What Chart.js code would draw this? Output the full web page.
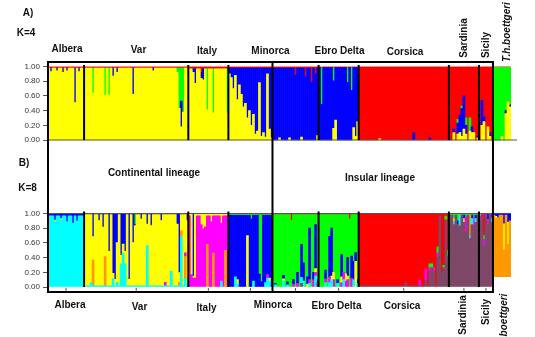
<!DOCTYPE html>
<html lang="en">
<head>
<meta charset="UTF-8">
<title>STRUCTURE plot K=4 / K=8</title>
<script src="https://cdn.jsdelivr.net/npm/chart.js"></script>
<style>
    body { margin: 0; background: #fff; }
    .wrap { position: relative; width: 535px; height: 337px; overflow: hidden; }
    .lab {
        position: absolute;
        font: bold 10px 'Liberation Sans', Arial, sans-serif;
        line-height: 10px;
        color: #111;
        white-space: nowrap;
        transform: translate(-50%, -50%);
    }
    .rot { transform: translate(-50%, -50%) rotate(-90deg); }
    .it { font-style: italic; }
</style>
</head>
<body>
<div class="wrap">
    <canvas id="structurePlot"></canvas>

    <!-- panel A -->
    <div class="lab" style="left:28px;top:13px">A)</div>
    <div class="lab" style="left:26px;top:32.5px">K=4</div>
    <div class="lab" style="left:67px;top:49px">Albera</div>
    <div class="lab" style="left:138.5px;top:50px">Var</div>
    <div class="lab" style="left:207px;top:51px">Italy</div>
    <div class="lab" style="left:270.5px;top:50.5px">Minorca</div>
    <div class="lab" style="left:339.5px;top:51px">Ebro Delta</div>
    <div class="lab" style="left:405px;top:51.5px">Corsica</div>
    <div class="lab rot" style="left:463.5px;top:38px">Sardinia</div>
    <div class="lab rot" style="left:486px;top:45px">Sicily</div>
    <div class="lab rot it" style="left:507px;top:32px">T.h.boettgeri</div>

    <!-- panel B -->
    <div class="lab" style="left:24px;top:163px">B)</div>
    <div class="lab" style="left:27.5px;top:187.5px">K=8</div>
    <div class="lab" style="left:154px;top:172.5px">Continental lineage</div>
    <div class="lab" style="left:380px;top:177.5px">Insular lineage</div>
    <div class="lab" style="left:70px;top:305px">Albera</div>
    <div class="lab" style="left:139.5px;top:307px">Var</div>
    <div class="lab" style="left:206.5px;top:308px">Italy</div>
    <div class="lab" style="left:273px;top:305px">Minorca</div>
    <div class="lab" style="left:336.5px;top:305.5px">Ebro Delta</div>
    <div class="lab" style="left:402px;top:305.5px">Corsica</div>
    <div class="lab rot" style="left:462.5px;top:315px">Sardinia</div>
    <div class="lab rot" style="left:486px;top:311.5px">Sicily</div>
    <div class="lab rot it" style="left:504px;top:315px">boettgeri</div>
</div>

<script>
// sampling sites, left to right (Ebro Delta has two sites)
const sites = ['Albera', 'Var', 'Italy', 'Minorca', 'Ebro1', 'Ebro2', 'Corsica', 'Sardinia', 'Sicily', 'boettgeri'];
const siteSizes = [18, 52, 20, 22, 23, 20, 45, 15, 7, 9];
const boxedSites = 9;          // boettgeri sits outside the frame
const lineageSplit = 'Ebro1';  // first insular site

// clusters in stacking order, bottom to top
const clustersA = ['yellow', 'blue', 'green', 'red'];
const clustersB = ['mauve', 'cyan', 'orange', 'magenta', 'yellow', 'blue', 'green', 'red'];
const colours = {
    yellow: '#ffff00', blue: '#0000ff', green: '#00ff00', red: '#ff0000',
    mauve: '#7f4868', cyan: '#00ffff', orange: '#ff9900', magenta: '#ff00ff'
};

const tickValues = [0, 0.2, 0.4, 0.6, 0.8, 1.0];
const tickLabels = ['0.00', '0.20', '0.40', '0.60', '0.80', '1.00'];

// K=4: main cluster of each site and the thin fringe every bird carries
const mainA = ['yellow', 'yellow', 'yellow', 'blue', 'blue', 'blue', 'red', 'red', 'red', 'green'];
const fringeA = [{red: .02}, {red: .02}, {red: .03}, {red: .02}, {red: .02}, {red: .015}, {}, {}, {}, {red: .01}];
const liftA = [0, 0, 0, 0, 0, 0, 0, 0, 0, 0];

// K=4: admixed individuals [site, individual, shares]
const admixA = [
    ['Albera', 1, {blue: .05}], ['Albera', 4, {blue: .04}], ['Albera', 7, {blue: .06}],
    ['Albera', 9, {blue: .04}], ['Albera', 13, {blue: .47}], ['Albera', 15, {blue: .05}],
    ['Var', 4, {green: .34}], ['Var', 10, {green: .37}], ['Var', 12, {green: .37}],
    ['Var', 14, {blue: .11}], ['Var', 16, {blue: .06}], ['Var', 24, {blue: .36}],
    ['Var', 34, {blue: .04}], ['Var', 46, {green: .06}], ['Var', 47, {green: .55}],
    ['Var', 48, {green: .45, blue: .35}], ['Var', 49, {green: .6}],
    ['Italy', 2, {blue: .05}], ['Italy', 3, {blue: .2}], ['Italy', 6, {red: .05, blue: .08}],
    ['Italy', 7, {blue: .15}], ['Italy', 9, {green: .56}], ['Italy', 12, {green: .6}],
    ['Italy', 19, {green: .6}],
    ['Minorca', 0, {yellow: .9}], ['Minorca', 1, {yellow: .85}], ['Minorca', 2, {yellow: .7}],
    ['Minorca', 3, {yellow: .88}], ['Minorca', 4, {yellow: .55}], ['Minorca', 5, {yellow: .75}],
    ['Minorca', 6, {yellow: .62}], ['Minorca', 7, {yellow: .45}], ['Minorca', 8, {yellow: .5}],
    ['Minorca', 9, {yellow: .3}], ['Minorca', 10, {yellow: .4}], ['Minorca', 11, {yellow: .2}],
    ['Minorca', 12, {yellow: .35}], ['Minorca', 13, {yellow: .08}], ['Minorca', 14, {yellow: .12}],
    ['Minorca', 15, {yellow: .78}], ['Minorca', 16, {yellow: .05}], ['Minorca', 17, {yellow: .1}],
    ['Minorca', 18, {yellow: .04}], ['Minorca', 19, {yellow: .9}], ['Minorca', 20, {yellow: .15}],
    ['Minorca', 21, {yellow: .03}],
    ['Ebro1', 3, {yellow: .03}], ['Ebro1', 8, {yellow: .03}], ['Ebro1', 11, {red: .1}],
    ['Ebro1', 14, {yellow: .04}], ['Ebro1', 16, {red: .12}], ['Ebro1', 19, {red: .2}],
    ['Ebro1', 21, {red: .08}], ['Ebro1', 22, {yellow: .06}],
    ['Ebro2', 1, {green: .5}], ['Ebro2', 7, {green: .18, yellow: .16}], ['Ebro2', 8, {yellow: .27}],
    ['Ebro2', 14, {green: .2}], ['Ebro2', 16, {green: .31}], ['Ebro2', 17, {yellow: .17}],
    ['Ebro2', 18, {yellow: .05}], ['Ebro2', 19, {yellow: .25}],
    ['Corsica', 10, {yellow: .02}], ['Corsica', 27, {blue: .1}], ['Corsica', 35, {blue: .03}],
    ['Sardinia', 2, {yellow: .1, blue: .05}], ['Sardinia', 4, {yellow: .08, blue: .15, green: .05}],
    ['Sardinia', 5, {yellow: .1, blue: .24}], ['Sardinia', 6, {yellow: .05, blue: .38, green: .03}],
    ['Sardinia', 7, {yellow: .15, blue: .45}], ['Sardinia', 8, {yellow: .08, blue: .12, green: .1}],
    ['Sardinia', 10, {yellow: .12, green: .18}], ['Sardinia', 11, {yellow: .1, blue: .08}],
    ['Sardinia', 12, {yellow: .1}], ['Sardinia', 14, {yellow: .03, blue: .02}],
    ['Sicily', 1, {yellow: .2, blue: .34}], ['Sicily', 2, {yellow: .25, blue: .07}],
    ['Sicily', 4, {yellow: .18}], ['Sicily', 5, {yellow: .05, blue: .05}],
    ['boettgeri', 4, {yellow: .05}], ['boettgeri', 6, {yellow: .36, blue: .04}],
    ['boettgeri', 7, {yellow: .52}], ['boettgeri', 8, {yellow: .45, blue: .03}]
];

// K=8
const mainB = ['cyan', 'yellow', 'magenta', 'blue', 'green', 'green', 'red', 'mauve', 'mauve', 'orange'];
const fringeB = [{blue: .03}, {blue: .015, cyan: .015}, {yellow: .03}, {red: .015, green: .01}, {red: .015},
                 {red: .015}, {mauve: .015}, {green: .02}, {magenta: .02}, {blue: .02}];
const liftB = [0, 0, 0, 0, 0, 0, 0, 0, 0, 0.14];   // boettgeri block starts above zero

const admixB = [
    ['Albera', 3, {blue: .06, yellow: .03}], ['Albera', 6, {blue: .04, yellow: .02}],
    ['Albera', 9, {blue: .08}], ['Albera', 12, {blue: .1}], ['Albera', 14, {blue: .07}],
    ['Var', 3, {cyan: .05}], ['Var', 4, {orange: .35, blue: .3}], ['Var', 7, {blue: .08}],
    ['Var', 9, {blue: .17}], ['Var', 10, {orange: .4}], ['Var', 12, {blue: .5}],
    ['Var', 14, {blue: .8, cyan: .1}], ['Var', 15, {blue: .88}], ['Var', 16, {blue: .38, cyan: .05}],
    ['Var', 18, {blue: .55, cyan: .3}], ['Var', 19, {blue: .4, cyan: .44}], ['Var', 20, {blue: .5, cyan: .3}],
    ['Var', 22, {blue: .88}], ['Var', 24, {blue: .38}], ['Var', 25, {green: .15}],
    ['Var', 28, {blue: .06}], ['Var', 31, {blue: .13, cyan: .55}], ['Var', 33, {blue: .15}],
    ['Var', 38, {blue: .08}], ['Var', 40, {magenta: .05}], ['Var', 43, {cyan: .2}],
    ['Var', 46, {blue: .13}], ['Var', 47, {blue: .79, orange: .05}], ['Var', 48, {cyan: .67, orange: .08}],
    ['Var', 50, {orange: .3, magenta: .05, cyan: .1}], ['Var', 51, {blue: .08}],
    ['Italy', 1, {yellow: .8}], ['Italy', 2, {blue: .85}], ['Italy', 3, {yellow: .85}],
    ['Italy', 6, {yellow: .12}], ['Italy', 7, {yellow: .18}], ['Italy', 8, {yellow: .15}],
    ['Italy', 9, {orange: .58}], ['Italy', 11, {yellow: .08}], ['Italy', 12, {orange: .46}],
    ['Italy', 16, {yellow: .1, cyan: .08}], ['Italy', 18, {orange: .5}],
    ['Minorca', 3, {cyan: .14}], ['Minorca', 4, {yellow: .06, cyan: .04}], ['Minorca', 9, {yellow: .7}],
    ['Minorca', 11, {green: .05}], ['Minorca', 12, {cyan: .08}], ['Minorca', 15, {green: .8}],
    ['Minorca', 16, {green: .9}], ['Minorca', 18, {cyan: .06}], ['Minorca', 19, {cyan: .12, magenta: .05}],
    ['Minorca', 20, {cyan: .08, yellow: .04}],
    ['Ebro1', 1, {cyan: .03, blue: .02}], ['Ebro1', 5, {cyan: .08, blue: .05, yellow: .03}],
    ['Ebro1', 7, {blue: .04, cyan: .03}], ['Ebro1', 9, {red: .08}], ['Ebro1', 10, {blue: .06, magenta: .04}],
    ['Ebro1', 12, {blue: .15, magenta: .05}], ['Ebro1', 14, {blue: .45, cyan: .08, mauve: .05}],
    ['Ebro1', 15, {blue: .25, cyan: .08}], ['Ebro1', 17, {blue: .1, yellow: .04}],
    ['Ebro1', 18, {blue: .7, cyan: .05, magenta: .05}], ['Ebro1', 20, {magenta: .1, blue: .1}],
    ['Ebro1', 21, {blue: .6, cyan: .15, yellow: .05, magenta: .05}], ['Ebro1', 22, {mauve: .05, blue: .05}],
    ['Ebro2', 3, {blue: .12, cyan: .06, magenta: .05}], ['Ebro2', 5, {blue: .55, magenta: .08, cyan: .06}],
    ['Ebro2', 6, {blue: .65, cyan: .1, yellow: .05}], ['Ebro2', 7, {magenta: .1, yellow: .1}],
    ['Ebro2', 9, {blue: .05, cyan: .05}], ['Ebro2', 11, {blue: .3, yellow: .08, magenta: .06}],
    ['Ebro2', 12, {cyan: .1, magenta: .1}], ['Ebro2', 13, {yellow: .1, magenta: .08}],
    ['Ebro2', 14, {blue: .25, magenta: .1, yellow: .05}], ['Ebro2', 15, {red: .06}],
    ['Ebro2', 16, {blue: .3, magenta: .12}], ['Ebro2', 17, {blue: .25, cyan: .1}],
    ['Ebro2', 18, {yellow: .35, blue: .12}], ['Ebro2', 19, {blue: .05, cyan: .05}],
    ['Corsica', 23, {mauve: .05}], ['Corsica', 30, {magenta: .08}], ['Corsica', 33, {magenta: .15, mauve: .08}],
    ['Corsica', 35, {mauve: .2, green: .05, magenta: .05}], ['Corsica', 36, {mauve: .25, green: .05}],
    ['Corsica', 37, {mauve: .2, magenta: .05}], ['Corsica', 39, {mauve: .4, green: .08, magenta: .05}],
    ['Corsica', 40, {mauve: .95}], ['Corsica', 41, {mauve: .19}], ['Corsica', 42, {mauve: .25, green: .03}],
    ['Corsica', 43, {mauve: .9, green: .05}], ['Corsica', 44, {mauve: .4, green: .08}],
    ['Sardinia', 2, {green: .05, cyan: .04, yellow: .04}], ['Sardinia', 4, {green: .08, blue: .05}],
    ['Sardinia', 5, {cyan: .15}], ['Sardinia', 7, {blue: .05, yellow: .05}],
    ['Sardinia', 8, {magenta: .2, green: .03}], ['Sardinia', 10, {orange: .28, cyan: .04}],
    ['Sardinia', 11, {cyan: .08, blue: .05}], ['Sardinia', 12, {magenta: .1, green: .05}],
    ['Sardinia', 13, {blue: .05, cyan: .05}],
    ['Sicily', 0, {magenta: .05, yellow: .03}], ['Sicily', 2, {red: .3, magenta: .08, green: .05}],
    ['Sicily', 4, {blue: .08, magenta: .05}], ['Sicily', 6, {cyan: .05, blue: .05}],
    ['boettgeri', 1, {yellow: .03, blue: .02}], ['boettgeri', 2, {blue: .04}],
    ['boettgeri', 5, {blue: .12, yellow: .35}], ['boettgeri', 7, {blue: .1, yellow: .3}],
    ['boettgeri', 8, {blue: .08}]
];

// panel A sits above panel B on one value axis
const panelOffsetA = 2;

document.addEventListener('DOMContentLoaded', function() {
    const labels = [];
    sites.forEach((s, p) => { for (let i = 0; i < siteSizes[p]; i++) labels.push(s + ' ' + (i + 1)); });

    function buildPanel(clusters, mains, fringes, lifts, admix, offset) {
        const birds = [];
        sites.forEach((site, p) => {
            for (let i = 0; i < siteSizes[p]; i++) {
                const share = Object.assign({}, fringes[p]);
                admix.filter(a => a[0] === site && a[1] === i).forEach(a => {
                    for (const k in a[2]) share[k] = (share[k] || 0) + a[2][k];
                });
                const used = Object.values(share).reduce((a, b) => a + b, 0);
                share[mains[p]] = (share[mains[p]] || 0) + (1 - lifts[p] - used);
                birds.push({lift: lifts[p], share});
            }
        });
        return clusters.map((c, ci) => ({
            label: c,
            data: birds.map(b => {
                const v = b.share[c] || 0;
                if (v <= 0) return null;
                let lo = offset + b.lift;
                for (let k = 0; k < ci; k++) lo += b.share[clusters[k]] || 0;
                return [lo, lo + v];
            }),
            backgroundColor: colours[c],
            borderWidth: 0,
            grouped: false,
            barPercentage: 1,
            categoryPercentage: 1
        }));
    }

    const datasets = buildPanel(clustersA, mainA, fringeA, liftA, admixA, panelOffsetA)
        .concat(buildPanel(clustersB, mainB, fringeB, liftB, admixB, 0));

    // cumulative site boundaries (category indices)
    const bounds = [0];
    siteSizes.forEach(n => bounds.push(bounds[bounds.length - 1] + n));

    const framePlugin = {
        id: 'frame',
        afterDatasetsDraw(chart) {
            const {ctx, scales: {x, y}} = chart;
            const step = x.getPixelForValue(1) - x.getPixelForValue(0);
            const edge = i => x.getPixelForValue(i) - step / 2;
            const left = edge(0), right = edge(bounds[boxedSites]);
            const mid = edge(bounds[sites.indexOf(lineageSplit)]);
            const topA = y.getPixelForValue(panelOffsetA + 1), baseA = y.getPixelForValue(panelOffsetA);
            const topB = y.getPixelForValue(1), baseB = y.getPixelForValue(0);
            const frameTop = topA - 4.5, frameBottom = baseB + 5;

            ctx.save();
            // thin baselines
            ctx.strokeStyle = '#555';
            ctx.lineWidth = 1;
            ctx.beginPath();
            ctx.moveTo(left, baseA); ctx.lineTo(edge(bounds[bounds.length - 1]) + 6, baseA);
            ctx.moveTo(left, topB); ctx.lineTo(right, topB);
            // ticks under panel B at site centres
            for (let p = 0; p < boxedSites; p++) {
                const cx = (edge(bounds[p]) + edge(bounds[p + 1])) / 2;
                ctx.moveTo(cx, baseB + 1); ctx.lineTo(cx, baseB + 4);
            }
            ctx.stroke();

            // site separators
            ctx.strokeStyle = '#000';
            ctx.lineWidth = 2;
            ctx.beginPath();
            for (let p = 1; p < boxedSites; p++) {
                if (sites[p] === lineageSplit) continue;
                const bx = edge(bounds[p]);
                ctx.moveTo(bx, topA - 1.5); ctx.lineTo(bx, baseA);
                ctx.moveTo(bx, topB - 2); ctx.lineTo(bx, baseB);
            }
            ctx.stroke();

            // lineage boxes
            ctx.beginPath();
            ctx.rect(left, frameTop, right - left, frameBottom - frameTop);
            ctx.moveTo(mid, frameTop); ctx.lineTo(mid, frameBottom);
            ctx.stroke();
            ctx.restore();
        }
    };

    new Chart(document.getElementById('structurePlot'), {
        type: 'bar',
        data: {labels, datasets},
        options: {
            responsive: true,
            maintainAspectRatio: false,
            animation: false,
            layout: {padding: {left: 0, right: 24, top: 66.5, bottom: 50}},
            plugins: {legend: {display: false}, tooltip: {enabled: false}},
            scales: {
                x: {display: false},
                y: {
                    min: 0,
                    max: panelOffsetA + 1,
                    afterFit: s => { s.width = 48; },
                    afterBuildTicks: s => {
                        s.ticks = tickValues.map(v => ({value: v}))
                            .concat(tickValues.map(v => ({value: v + panelOffsetA})));
                    },
                    ticks: {
                        padding: 3,
                        color: '#333',
                        font: {family: "'Liberation Sans', Arial, sans-serif", size: 8},
                        callback: (v, i) => tickLabels[i % tickLabels.length]
                    },
                    grid: {drawOnChartArea: false, drawTicks: true, tickLength: 5, color: '#555'},
                    border: {display: false}
                }
            }
        },
        plugins: [framePlugin]
    });
});
</script>
</body>
</html>
